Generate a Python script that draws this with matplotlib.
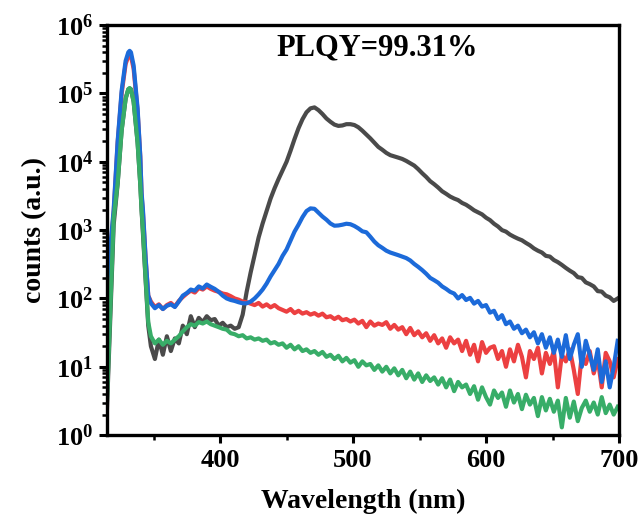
import matplotlib
matplotlib.use("Agg")
import matplotlib.pyplot as plt
from matplotlib.ticker import LogLocator, MultipleLocator, NullFormatter

plt.rcParams['font.family'] = ['Liberation Serif', 'DejaVu Serif']
plt.rcParams['font.weight'] = 'bold'
plt.rcParams['mathtext.fontset'] = 'custom'
plt.rcParams['mathtext.rm'] = 'Liberation Serif:bold'
plt.rcParams['mathtext.bf'] = 'Liberation Serif:bold'
plt.rcParams['mathtext.it'] = 'Liberation Serif:bold'
plt.rcParams['mathtext.default'] = 'bf'

# wavelength grid (nm): dense around the excitation peak, 3 nm steps after 348
wl = [315, 320, 323, 326, 329, 331, 332, 333, 335, 338, 340, 341, 342, 344, 346] + list(range(348, 700, 3))

gray = [2.5, 1200, 4800, 29000, 84000, 115000, 118000, 115000, 76000, 19000, 4700, 1950, 900, 180, 40,
        20, 13, 25, 15, 28, 17, 26, 22, 40, 30,
        55, 38, 52, 45, 55, 48, 50, 40, 44, 38,
        40, 36, 38, 58, 125, 240, 430, 780, 1250, 1900,
        2900, 4100, 5600, 7500, 10000, 14500, 21500, 31000, 42000, 53000,
        60500, 62500, 57000, 50000, 43000, 38500, 35000, 33500, 34000, 35500,
        35500, 34500, 32000, 28500, 25000, 22000, 19000, 16500, 15000, 13500,
        12500, 12000, 11500, 11000, 10300, 9500, 8800, 7800, 6800, 6000,
        5200, 4700, 4200, 3700, 3400, 3100, 2900, 2750, 2500, 2350,
        2150, 1950, 1820, 1700, 1520, 1400, 1240, 1130, 1000, 950,
        860, 800, 750, 710, 650, 600, 540, 500, 470, 420,
        410, 365, 340, 310, 280, 255, 235, 205, 200, 172,
        162, 150, 128, 126, 110, 104, 92, 100]

red = [140, 1800, 19000, 100000, 270000, 350000, 360000, 350000, 230000, 55000, 12000, 3200, 1800, 380, 110,
       90, 75, 82, 70, 80, 86, 76, 92, 105, 118,
       130, 122, 142, 135, 150, 138, 130, 125, 118, 115,
       108, 100, 96, 90, 88, 84, 80, 86, 76, 82,
       74, 80, 72, 68, 64, 70, 61, 66, 60, 63,
       58, 61, 56, 60, 53, 55, 50, 54, 48, 50,
       46, 49, 43, 47, 38, 46, 40, 43, 41, 45,
       36, 41, 35, 38, 30, 37, 29, 33, 27, 31,
       24, 29, 22, 26, 19, 27, 22, 25, 17, 24,
       15, 21, 12, 23, 16, 19, 20, 13, 17, 10,
       18, 12, 21, 14, 7, 17, 13, 19, 8, 16,
       11, 17, 5, 15, 12, 18, 9, 4, 15, 11,
       17, 8, 13, 5, 16, 12, 7, 13]

blue = [160, 2000, 20000, 110000, 300000, 400000, 420000, 400000, 257000, 60000, 12000, 3500, 2000, 400, 110,
        85, 72, 80, 70, 78, 82, 75, 90, 110, 120,
        135, 130, 150, 140, 160, 148, 138, 125, 110, 100,
        95, 92, 88, 85, 85, 90, 100, 115, 135, 165,
        210, 260, 320, 420, 520, 700, 950, 1200, 1550, 1900,
        2080, 2050, 1800, 1580, 1420, 1250, 1160, 1170, 1200, 1240,
        1220, 1150, 1060, 960, 930, 800, 680, 600, 550, 500,
        470, 450, 430, 410, 390, 360, 320, 290, 260, 230,
        200, 185, 170, 150, 138, 125, 118, 100, 112, 95,
        102, 84, 92, 76, 80, 62, 66, 50, 57, 42,
        46, 36, 40, 31, 35, 27, 32, 22, 30, 19,
        27, 16, 25, 14, 29, 13, 21, 30, 10, 24,
        15, 9, 18, 6, 12, 5, 10, 24]

green = [3.3, 1500, 4900, 29000, 84000, 115000, 120000, 115000, 76000, 19000, 4700, 1950, 1000, 200, 45,
         28, 22, 25, 21, 24, 22, 25, 28, 33, 38,
         42, 40, 45, 43, 46, 42, 40, 38, 36, 35,
         31, 30, 28, 29, 26, 27, 25, 26, 24, 25,
         22, 23, 21, 22, 19, 21, 18, 20, 17, 18,
         16, 17, 15, 16.5, 14, 15, 13, 14.5, 12, 13.5,
         11.5, 12.5, 10, 12, 10.5, 11, 9, 10.5, 8.5, 10,
         8, 9.5, 7.5, 9, 6.8, 8.5, 6.5, 8, 6, 7.5,
         6.2, 7, 5.5, 6.8, 5, 6.5, 4.4, 6, 5, 5.5,
         4, 5.2, 3.3, 5, 3.6, 2.8, 4.5, 3.5, 4.2, 2.6,
         4.5, 3, 4, 2.4, 3.9, 2.8, 3.5, 1.9, 3.6, 2.3,
         3.4, 2.2, 3.2, 1.3, 3.5, 1.8, 3.1, 1.6, 2.5, 3.2,
         2.2, 3, 2, 3.6, 2.1, 2.8, 2, 2.6]

fig = plt.figure(figsize=(6.42, 5.23), dpi=100)
ax = fig.add_axes([0.1667, 0.168, 0.7975, 0.784])

lw = 3.0
ax.plot(wl, gray, color='#4a4a4a', lw=lw)
ax.plot(wl, red, color='#ec4041', lw=lw)
ax.plot(wl, blue, color='#1c6ad9', lw=lw)
ax.plot(wl, green, color='#38ad68', lw=lw)

ax.set_yscale('log')
ax.set_xlim(315, 700)
ax.set_ylim(1, 1e6)
ax.xaxis.set_major_locator(MultipleLocator(100))
ax.xaxis.set_minor_locator(MultipleLocator(50))
ax.yaxis.set_major_locator(LogLocator(base=10, numticks=10))
ax.yaxis.set_minor_locator(LogLocator(base=10, subs=range(2, 10), numticks=10))
ax.yaxis.set_minor_formatter(NullFormatter())

for s in ax.spines.values():
    s.set_linewidth(2.4)
ax.tick_params(which='major', direction='out', length=6, width=2.2, labelsize=19, pad=4)
ax.tick_params(which='minor', direction='out', length=3.5, width=1.8)

ax.set_xlabel('Wavelength (nm)', fontsize=20, fontweight='bold', labelpad=12)
ax.set_ylabel('counts (a.u.)', fontsize=20, fontweight='bold', labelpad=6)
ax.text(0.527, 0.944, 'PLQY=99.31%', transform=ax.transAxes, ha='center', va='center',
        fontsize=22, fontweight='bold')

fig.savefig('out.png', dpi=100)
